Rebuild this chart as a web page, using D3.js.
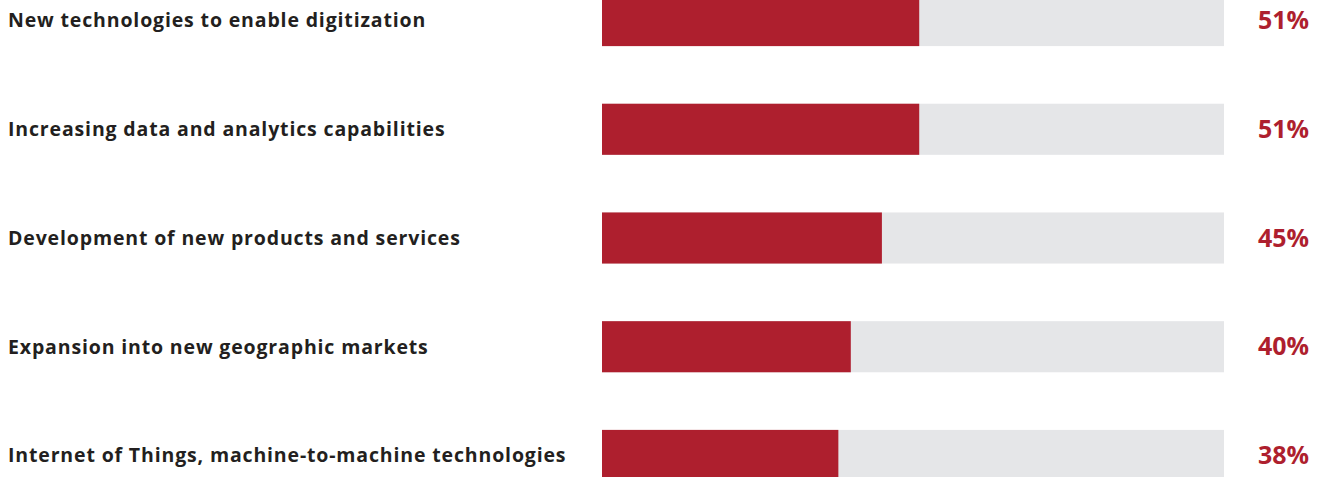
<!DOCTYPE html>
<html>
<head>
<meta charset="utf-8">
<script src="https://cdn.jsdelivr.net/npm/d3@7"></script>
<style>
  html, body { margin: 0; padding: 0; background: #ffffff; }
  svg { display: block; }
  text { font-family: "Open Sans", Lato, sans-serif; font-weight: 700; }
</style>
</head>
<body>
<svg id="chart" width="1322" height="477"></svg>
<script>
// Share of respondents citing each driver
const categories = [
  "New technologies to enable digitization",
  "Increasing data and analytics capabilities",
  "Development of new products and services",
  "Expansion into new geographic markets",
  "Internet of Things, machine-to-machine technologies"
];
const values = [51, 51, 45, 40, 38];
const valueLabels = ["51%", "51%", "45%", "40%", "38%"];

const width = 1322, height = 477;
const svg = d3.select("#chart");

const x = d3.scaleLinear().domain([0, 100]).range([602, 1224]);
const y = d3.scaleBand()
  .domain(categories)
  .range([-5, 481])
  .paddingInner(0.53)
  .paddingOuter(0);

const rows = svg.selectAll("g.row")
  .data(categories.map((c, i) => ({ c, v: values[i], label: valueLabels[i] })))
  .join("g")
  .attr("class", "row");

// full-scale track
rows.append("rect")
  .attr("x", x(0))
  .attr("y", d => y(d.c))
  .attr("width", x(100) - x(0))
  .attr("height", y.bandwidth())
  .attr("fill", "#e5e6e8");

// value bar
rows.append("rect")
  .attr("x", x(0))
  .attr("y", d => y(d.c))
  .attr("width", d => x(d.v) - x(0))
  .attr("height", y.bandwidth())
  .attr("fill", "#ae1f2e");

// category labels
rows.append("text")
  .attr("x", 8)
  .attr("y", d => y(d.c) + y.bandwidth() / 2)
  .attr("dy", "0.35em")
  .attr("font-size", 19.5)
  .attr("letter-spacing", 0.85)
  .attr("fill", "#231f20")
  .text(d => d.c);

// value labels
rows.append("text")
  .attr("x", 1309)
  .attr("y", d => y(d.c) + y.bandwidth() / 2)
  .attr("dy", "0.35em")
  .attr("text-anchor", "end")
  .attr("font-size", 25)
  .attr("fill", "#ae1f2e")
  .text(d => d.label);
</script>
</body>
</html>
